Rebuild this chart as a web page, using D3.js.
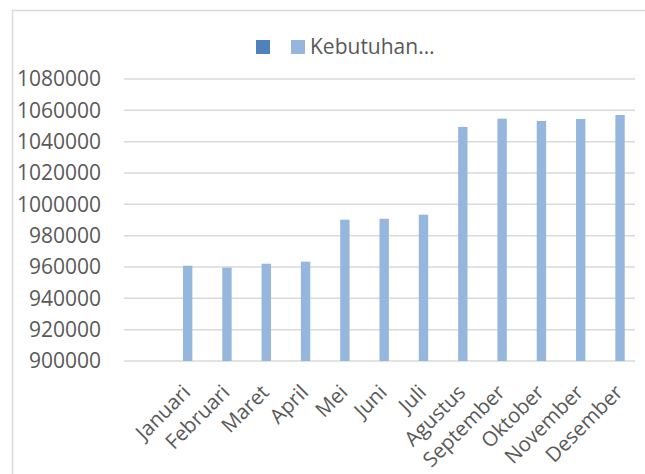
<!DOCTYPE html>
<html>
<head>
<meta charset="utf-8">
<script src="https://cdn.jsdelivr.net/npm/d3@7"></script>
<style>
  html, body { margin: 0; padding: 0; background: #fff; }
  svg { display: block; }
  text { font-family: "Open Sans", "Noto Sans", sans-serif; fill: #595959; }
</style>
</head>
<body>
<svg id="chart" width="645" height="474"></svg>
<script>
// ---- data ----
const categories = ["", "Januari", "Februari", "Maret", "April", "Mei", "Juni", "Juli",
  "Agustus", "September", "Oktober", "November", "Desember"];
const seriesNames = ["", "Kebutuhan…"];
const seriesA = [null, null, null, null, null, null, null, null, null, null, null, null, null];
const seriesB = [null, 960800, 959600, 962100, 963400, 990200, 990800, 993400,
  1049400, 1054700, 1053200, 1054500, 1057000];
const yTicks = [900000, 920000, 940000, 960000, 980000, 1000000, 1020000, 1040000, 1060000, 1080000];
const colors = ["#4F81BD", "#95B7DD"];

(function () {
const svg = d3.select("#chart");
const pLeft = 124, pRight = 635, pTop = 79, pBottom = 361;

svg.append("rect")
  .attr("x", 12.5).attr("y", 10.5).attr("width", 800).attr("height", 800)
  .attr("fill", "none").attr("stroke", "#d9d9d9").attr("stroke-width", 1.5);

const x = d3.scaleBand().domain(categories).range([pLeft, pRight]).paddingInner(0).paddingOuter(0);
const gap = 2.19;
const xs = d3.scaleBand().domain([0, 1]).range([0, x.bandwidth()]).paddingInner(0).paddingOuter(gap / 2);
const y = d3.scaleLinear().domain([900000, 1080000]).range([pBottom, pTop]);

svg.append("g").selectAll("line").data(yTicks).join("line")
  .attr("x1", pLeft).attr("x2", pRight)
  .attr("y1", d => y(d)).attr("y2", d => y(d))
  .attr("stroke", "#d9d9d9").attr("stroke-width", 1.5);

const yAxis = d3.axisLeft(y).tickValues(yTicks).tickSize(0).tickPadding(0).tickFormat(d3.format("d"));
const gy = svg.append("g").attr("transform", "translate(101,0)").call(yAxis);
gy.select(".domain").remove();
gy.selectAll("text").attr("font-size", 21).attr("fill", "#595959")
  .style("font-family", '"Open Sans", sans-serif');

const series = [seriesA, seriesB];
series.forEach((vals, si) => {
  svg.append("g").selectAll("rect")
    .data(categories.map((c, i) => ({c, v: vals[i]})).filter(d => d.v != null))
    .join("rect")
    .attr("x", d => x(d.c) + xs(si))
    .attr("width", xs.bandwidth())
    .attr("y", d => y(d.v))
    .attr("height", d => y(900000) - y(d.v))
    .attr("fill", colors[si]);
});

const xAxis = d3.axisBottom(x).tickSize(0).tickPadding(0);
const gx = svg.append("g").attr("transform", `translate(0,${pBottom})`).call(xAxis);
gx.select(".domain").remove();
gx.selectAll(".tick text")
  .attr("font-size", 20.5).attr("fill", "#595959")
  .style("font-family", '"Open Sans", sans-serif')
  .attr("text-anchor", "end")
  .attr("dy", null).attr("y", 0)
  .attr("transform", "translate(3,27) rotate(-45)")
  .attr("dominant-baseline", "central");

const legend = svg.append("g");
const legendX = [256, 291];
seriesNames.forEach((n, i) => {
  legend.append("rect").attr("x", legendX[i]).attr("y", 40).attr("width", 14).attr("height", 14)
    .attr("fill", colors[i]);
});
legend.append("text").attr("x", 310).attr("y", 53.5).attr("font-size", 21).text(seriesNames[1]);
})();
</script>
</body>
</html>
